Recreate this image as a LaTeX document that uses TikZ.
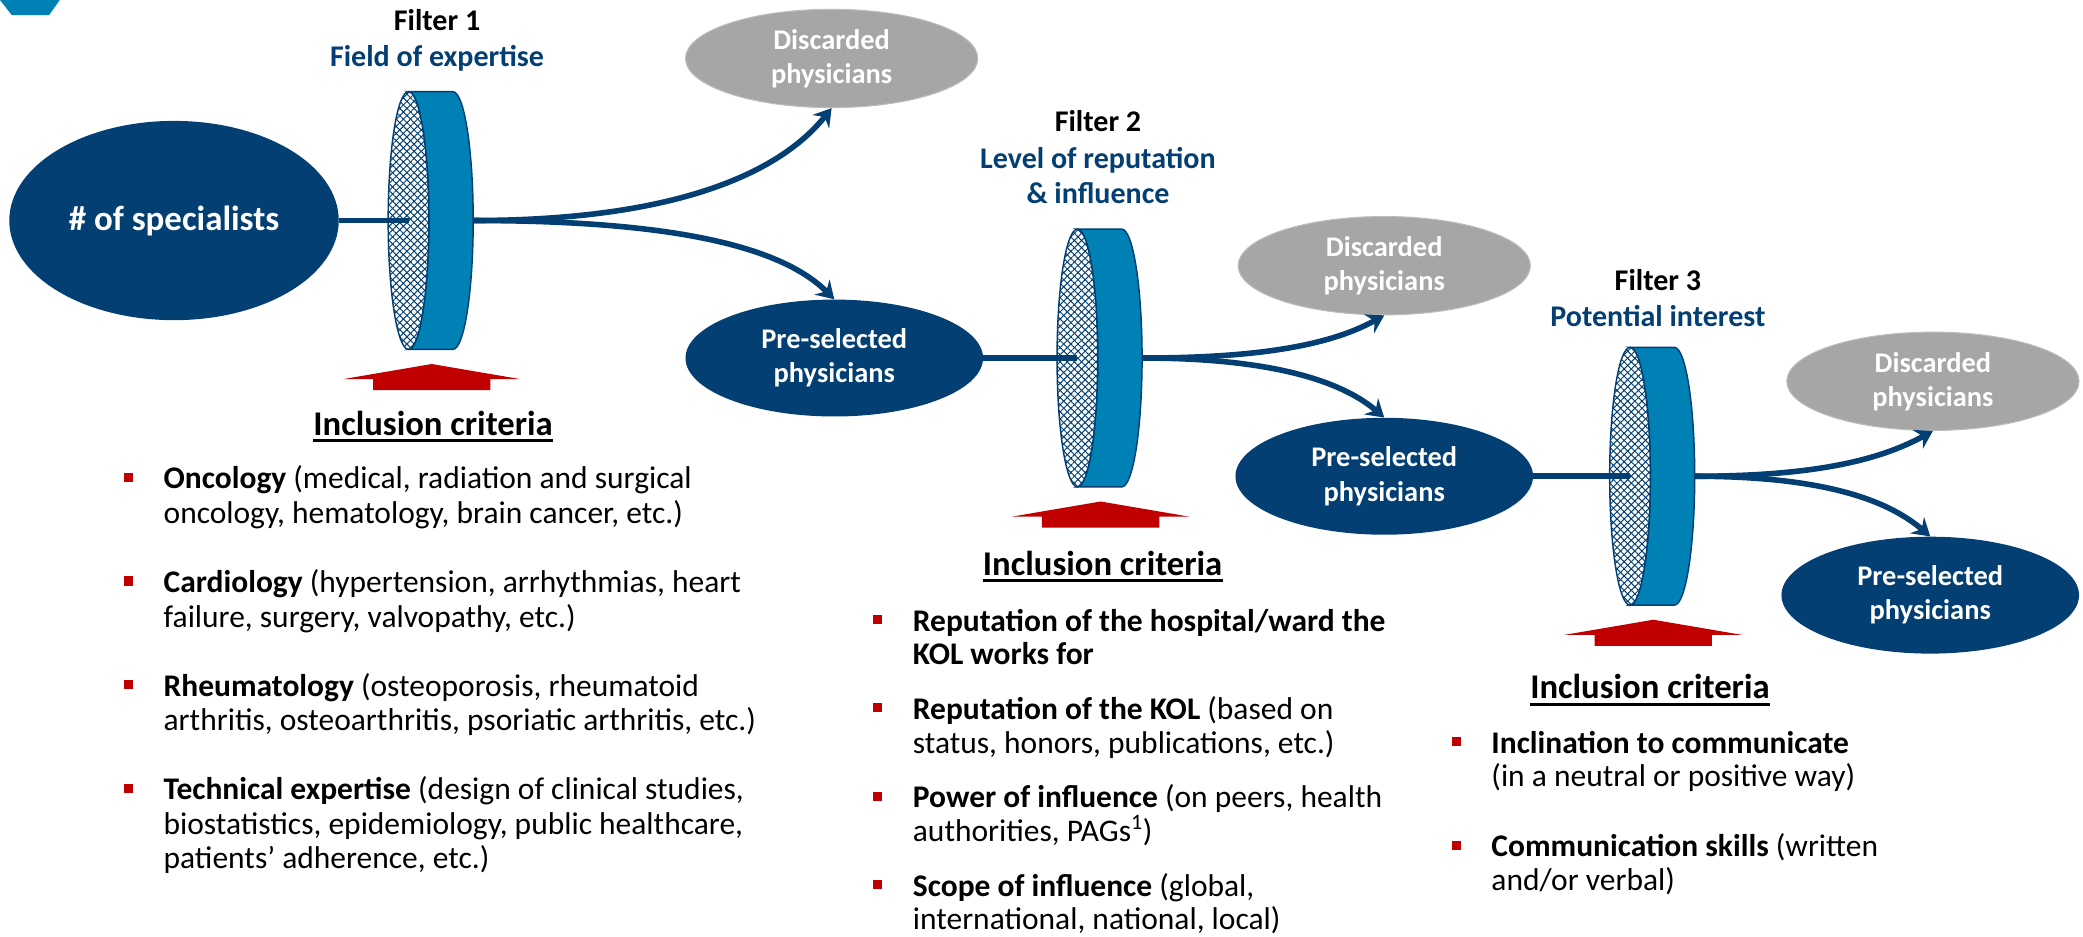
\documentclass[tikz,border=0pt]{standalone}
\usepackage{fontspec}
\setmainfont{Carlito}
\usepackage{xcolor}
\usepackage{tikz}
\usetikzlibrary{positioning,calc,arrows.meta,shapes.geometric,patterns.meta}
\definecolor{KOLNavy}{RGB}{3,63,114}
\definecolor{KOLCyan}{RGB}{0,129,182}
\definecolor{KOLGrey}{RGB}{166,166,166}
\definecolor{KOLRed}{RGB}{192,0,0}
% small red square in front of each criterion
\newcommand{\critmark}{\llap{\textcolor{KOLRed}{\rule[0.22em]{0.29em}{0.29em}}\hspace{0.97em}}}
\tikzset{
    flow/.style={draw=KOLNavy, line width=4.2pt},
    flowarrow/.style={flow, -{Stealth[length=13pt, width=16pt, inset=4.5pt]}},
    % disc filter seen from the side, with its red push arrow underneath
    pics/filterdisc/.style={
        code={
            \filldraw[fill=KOLCyan, draw=KOLNavy, line width=1.1pt]
                (0,-97) -- (33.4,-97)
                arc[start angle=-90, end angle=90, x radius=15.3, y radius=97]
                -- (0,97)
                arc[start angle=90, end angle=-90, x radius=15.3, y radius=97] -- cycle;
            \fill[white] (0,0) ellipse[x radius=15.3, y radius=97];
            \fill[pattern={Lines[angle=45, distance=3.8pt, line width=0.75pt]}, pattern color=KOLNavy]
                (0,0) ellipse[x radius=15.3, y radius=97];
            \fill[pattern={Lines[angle=-45, distance=3.8pt, line width=0.75pt]}, pattern color=KOLNavy]
                (0,0) ellipse[x radius=15.3, y radius=97];
            \draw[KOLNavy, line width=1.1pt] (0,0) ellipse[x radius=15.3, y radius=97];
            \fill[KOLRed] (17.5,108) -- (84.3,119.4) -- (61.7,119.4) -- (61.7,127.7)
                -- (-26.7,127.7) -- (-26.7,119.4) -- (-49.3,119.4) -- cycle;
            \coordinate (-front) at (0,0);
            \coordinate (-exit) at (48.7,0);
            \coordinate (-tip) at (17.5,108);
        }
    }
}

\begin{document}
\begin{tikzpicture}[x=1pt, y=-1pt,
        % population ovals
        poolnode/.style={
            ellipse,
            fill=KOLNavy,
            text=white,
            align=center,
            inner sep=0pt,
            font=\bfseries\fontsize{21.4}{25.6}\selectfont,
            minimum width=224pt,
            minimum height=88pt
        },
        dropnode/.style={poolnode, fill=KOLGrey, draw=KOLGrey!75!white, line width=0.8pt,
            minimum width=220pt, minimum height=74pt},
        specnode/.style={poolnode, font=\bfseries\fontsize{26.3}{31}\selectfont,
            minimum width=248pt, minimum height=150pt},
        % filter captions
        filtname/.style={anchor=base, inner sep=0pt, font=\bfseries\fontsize{22.6}{27}\selectfont},
        filtsub/.style={filtname, text=KOLNavy},
        % criteria blocks (placed by the baseline of their last line)
        crithead/.style={anchor=base, inner sep=0pt, font=\bfseries\fontsize{26.1}{31}\selectfont},
        critlist/.style={anchor=base west, align=left, inner sep=0pt,
            font=\fontsize{23.7}{25.5}\selectfont}
    ]
    \useasboundingbox (0,0) rectangle (1568,705);
    \fill[KOLCyan] (0,0) -- (45,0) -- (37,11.3) -- (8.8,11.3) -- cycle;

    % 1. THE THREE FILTERS
    \pic (f1) at (307.5,166) {filterdisc};
    \pic (f2) at (811,269.5) {filterdisc};
    \pic (f3) at (1227,358.5) {filterdisc};

    \node[filtname] (n1) at (329,23) {Filter 1};
    \node[filtsub] (s1) at (329,50) {Field of expertise};
    \node[filtname] (n2) at (826.5,99) {Filter 2};
    \node[filtsub] (s2) at (826.5,126.7) {Level of reputation};
    \node[filtsub] (s2b) at (826.5,153) {\& influence};
    \node[filtname] (n3) at (1248,219) {Filter 3};
    \node[filtsub] (s3) at (1248,246) {Potential interest};

    % 2. POPULATIONS
    \node[specnode] (spec) at (131,166) {\# of specialists};
    \node[dropnode] (drop1) at (626,44) {Discarded\\physicians};
    \node[poolnode] (keep1) at (628,269.5) {Pre-selected\\physicians};
    \node[dropnode] (drop2) at (1042,200) {Discarded\\physicians};
    \node[poolnode] (keep2) at (1042,358.5) {Pre-selected\\physicians};
    \node[dropnode] (drop3) at (1455,287) {Discarded\\physicians};
    \node[poolnode] (keep3) at (1453,448) {Pre-selected\\physicians};

    % 3. FLOWS THROUGH THE FILTERS
    \draw[flow] (spec.east) -- (f1-front);
    \draw[flowarrow] (f1-exit) .. controls +(150,0) and +(-40,50) .. (drop1.south);
    \draw[flowarrow] (f1-exit) .. controls +(150,0) and +(-40,-40) .. (keep1.north);
    \draw[flow] (keep1.east) -- (f2-front);
    \draw[flowarrow] (f2-exit) .. controls +(90,0) and +(-40,22) .. (drop2.south);
    \draw[flowarrow] (f2-exit) .. controls +(90,0) and +(-35,-30) .. (keep2.north);
    \draw[flow] (keep2.east) -- (f3-front);
    \draw[flowarrow] (f3-exit) .. controls +(90,0) and +(-40,22) .. (drop3.south);
    \draw[flowarrow] (f3-exit) .. controls +(90,0) and +(-35,-30) .. (keep3.north);

    % 4. INCLUSION CRITERIA
    \node[crithead] (h1) at (326,327.5) {Inclusion criteria};
    \node[crithead] (h2) at (830,433) {Inclusion criteria};
    \node[crithead] (h3) at (1242,526) {Inclusion criteria};
    \foreach \h in {h1,h2,h3}
        \draw[line width=2.3pt] ($(\h.base west)+(0,4)$) -- ($(\h.base east)+(0,4)$);

    \node[critlist, font=\fontsize{23.7}{26}\selectfont] (c1) at (123,654) {%
        \critmark\textbf{Oncology} (medical, radiation and surgical\\
        oncology, hematology, brain cancer, etc.)\\[26pt]
        \critmark\textbf{Cardiology} (hypertension, arrhythmias, heart\\
        failure, surgery, valvopathy, etc.)\\[26pt]
        \critmark\textbf{Rheumatology} (osteoporosis, rheumatoid\\
        arthritis, osteoarthritis, psoriatic arthritis, etc.)\\[26pt]
        \critmark\textbf{Technical expertise} (design of clinical studies,\\
        biostatistics, epidemiology, public healthcare,\\
        patients’ adherence, etc.)};
    \node[critlist] (c2) at (687,700) {%
        \critmark\textbf{Reputation of the hospital/ward the}\\
        \textbf{KOL works for}\\[15.5pt]
        \critmark\textbf{Reputation of the KOL} (based on\\
        status, honors, publications, etc.)\\[15.5pt]
        \critmark\textbf{Power of influence} (on peers, health\\
        authorities, PAGs\textsuperscript{1})\\[15.5pt]
        \critmark\textbf{Scope of influence} (global,\\
        international, national, local)};
    \node[critlist, font=\fontsize{23.7}{25}\selectfont] (c3) at (1122.5,670) {%
        \critmark\textbf{Inclination to communicate}\\
        (in a neutral or positive way)\\[28pt]
        \critmark\textbf{Communication skills} (written\\
        and/or verbal)};
\end{tikzpicture}
\end{document}
